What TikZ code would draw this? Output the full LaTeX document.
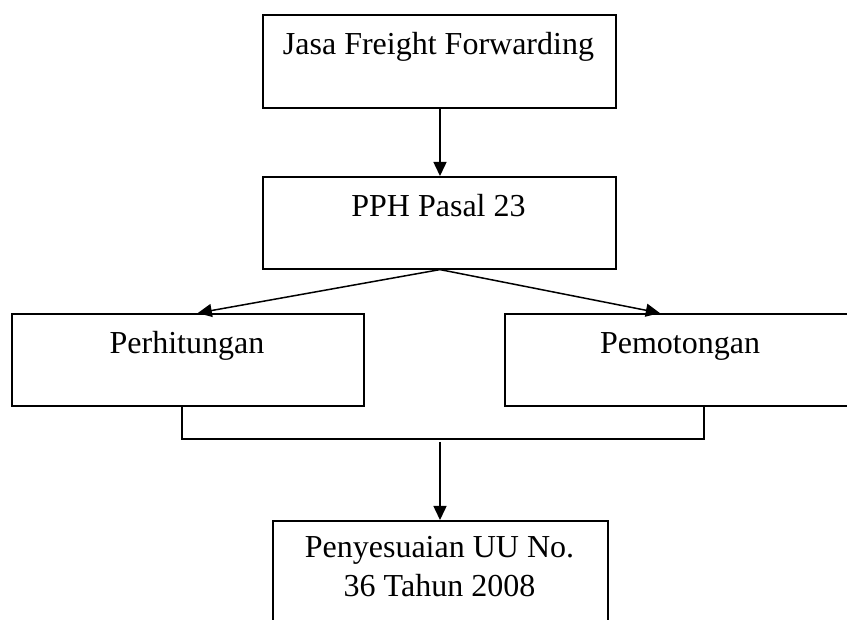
\documentclass[tikz,border=0pt]{standalone}
\usepackage{fontspec}
\setmainfont{Liberation Serif}
\usetikzlibrary{arrows.meta}
\begin{document}
\begin{tikzpicture}[x=1pt,y=-1pt,
  box/.style={draw,line width=1.6pt,rectangle,inner sep=0pt,anchor=north west},
  lbl/.style={anchor=base,inner sep=0pt,font=\fontsize{32}{38}\selectfont},
  arr/.style={line width=1.5pt,-{Triangle[length=14pt,width=13pt]}},
  conn/.style={line width=1.5pt}]
\useasboundingbox (0,0) rectangle (847,620);
\node[box,minimum width=353pt,minimum height=93pt] (b1) at (262,14) {};
\node[box,minimum width=353pt,minimum height=92pt] (b2) at (262,176) {};
\node[box,minimum width=352pt,minimum height=92pt] (b3) at (11,313) {};
\node[box,minimum width=352pt,minimum height=92pt] (b4) at (504,313) {};
\node[box,minimum width=335pt,minimum height=140pt] (b5) at (272,520) {};
\node[lbl] (t1) at (438.5,55) {Jasa Freight Forwarding};
\node[lbl] (t2) at (438.5,217) {PPH Pasal 23};
\node[lbl] (t3) at (187,354) {Perhitungan};
\node[lbl] (t4) at (680,354) {Pemotongan};
\node[lbl] (t5a) at (439.5,558) {Penyesuaian UU No.};
\node[lbl] (t5b) at (439.5,596) {36 Tahun 2008};
\coordinate (jl) at (182,439);
\coordinate (jr) at (704,439);
\coordinate (jm) at (440,442);
\draw[arr] (b1.south -| jm) -- (b2.north -| jm);
\draw[arr] (b2.south -| jm) -- ([xshift=10pt]b3.north);
\draw[arr] (b2.south -| jm) -- ([xshift=-21pt]b4.north);
\draw[conn] (b3.south -| jl) -- (jl) -- (jr) -- (b4.south -| jr);
\draw[arr] (jm) -- (b5.north -| jm);
\end{tikzpicture}
\end{document}
